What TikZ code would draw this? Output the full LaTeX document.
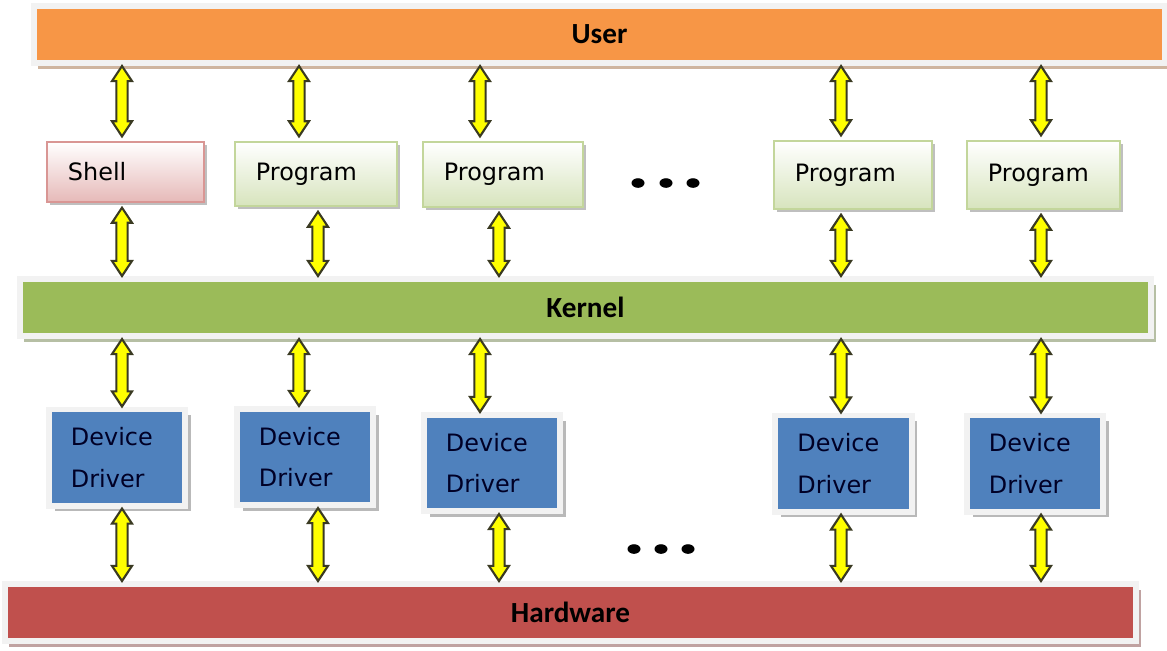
\documentclass[tikz,border=0pt]{standalone}
\usepackage{fontspec}
\setmainfont{DejaVu Sans}
\newfontfamily\barfont{Carlito}
\usetikzlibrary{calc,shadows}
\definecolor{userbar}{HTML}{F79646}
\definecolor{kernelbar}{HTML}{9BBB59}
\definecolor{hwbar}{HTML}{C0504D}
\definecolor{driver}{HTML}{4F81BD}
\definecolor{frame}{HTML}{F2F2F2}
\definecolor{shellfill}{HTML}{E6B9B8}
\definecolor{shellline}{HTML}{D99694}
\definecolor{progfill}{HTML}{D7E4BD}
\definecolor{progline}{HTML}{C3D69B}
\definecolor{arrowfill}{HTML}{FFFF00}
\definecolor{arrowline}{HTML}{3A3A22}
% double headed fat arrow
\def\headw{2.85pt}
\def\headl{4.3pt}
\def\shaftw{1.6pt}
\tikzset{
  bar/.style={draw=frame,line width=1.7pt,fill=#1,inner sep=0pt,
    minimum width=11.31cm,minimum height=0.57cm,
    font=\barfont\bfseries\fontsize{8.3}{10}\selectfont,
    drop shadow={shadow xshift=1.2pt,shadow yshift=-1.7pt,fill=#1!60!black,opacity=.45}},
  topbox/.style={line width=0.6pt,top color=white,align=left,
    inner xsep=0.21cm,inner ysep=0pt,outer sep=1.6pt,
    font=\fontsize{6.8}{8}\selectfont,
    drop shadow={shadow xshift=0.9pt,shadow yshift=-0.9pt,fill=black!50,opacity=.5}},
  shellbox/.style={topbox,draw=shellline,bottom color=shellfill},
  progbox/.style={topbox,draw=progline,bottom color=progfill},
  drvbox/.style={draw=frame,line width=1.7pt,fill=driver,align=left,
    text width=0.92cm,inner xsep=0.22cm,minimum height=0.96cm,
    font=\fontsize{6.8}{11.9}\selectfont,text=black!85!blue,
    drop shadow={shadow xshift=1.6pt,shadow yshift=-1.6pt,fill=black!55,opacity=.5}},
  fatarrow/.style={draw=arrowline,fill=arrowfill,line width=0.6pt,
    to path={let \p1=(\tikztostart),\p2=(\tikztotarget) in
      (\x1,\y1) -- (\x1+\headw,\y1-\headl) -- (\x1+\shaftw,\y1-\headl)
      -- (\x1+\shaftw,\y2+\headl) -- (\x1+\headw,\y2+\headl) -- (\x1,\y2)
      -- (\x1-\headw,\y2+\headl) -- (\x1-\shaftw,\y2+\headl)
      -- (\x1-\shaftw,\y1-\headl) -- (\x1-\headw,\y1-\headl) -- cycle}}
}
\begin{document}
\begin{tikzpicture}[x=0.01cm,y=-0.01cm]
 \useasboundingbox (0,0) rectangle (1167,650);
 % layers
 \node[bar=userbar] (user) at (599.5,34.5) {User};
 \node[bar=kernelbar] (kernel) at (585.5,307.5) {Kernel};
 \node[bar=hwbar] (hw) at (570.5,612.5) {Hardware};
 % user level
 \node[shellbox,text width=1.15cm,minimum height=0.60cm] (shell) at (125.5,172) {Shell};
 \node[progbox,text width=1.20cm,minimum height=0.64cm] (prog1) at (316,174) {Program};
 \node[progbox,text width=1.18cm,minimum height=0.65cm] (prog2) at (503,174.5) {Program};
 \node[progbox,text width=1.16cm,minimum height=0.68cm] (prog3) at (853,175) {Program};
 \node[progbox,text width=1.11cm,minimum height=0.68cm] (prog4) at (1043.5,175) {Program};
 % drivers
 \node[drvbox] (drv1) at (117,457.5) {Device\\Driver};
 \node[drvbox] (drv2) at (305,457) {Device\\Driver};
 \node[drvbox] (drv3) at (492,463) {Device\\Driver};
 \node[drvbox] (drv4) at (843.5,463.5) {Device\\Driver};
 \node[drvbox] (drv5) at (1035,463.5) {Device\\Driver};
 % ellipsis
 \foreach \x in {638,666,693}
   \fill (\x,183) ellipse [x radius=0.065cm,y radius=0.048cm];
 \foreach \x in {634,661,688}
   \fill (\x,549) ellipse [x radius=0.065cm,y radius=0.048cm];
 % arrow columns
 \foreach \i/\x in {1/122,2/299,3/480,4/841,5/1041}
   \coordinate (a\i) at (\x,0);
 \foreach \i/\x in {1/122,2/318,3/499,4/841,5/1041}
   \coordinate (b\i) at (\x,0);
 \foreach \b/\c in {shell/a1,prog1/a2,prog2/a3,prog3/a4,prog4/a5}
   \draw[fatarrow] (user.south -| \c) to (\b.north -| \c);
 \foreach \b/\c in {shell/b1,prog1/b2,prog2/b3,prog3/b4,prog4/b5}
   \draw[fatarrow] (\b.south -| \c) to (kernel.north -| \c);
 \foreach \b/\c in {drv1/a1,drv2/a2,drv3/a3,drv4/a4,drv5/a5}
   \draw[fatarrow] (kernel.south -| \c) to (\b.north -| \c);
 \foreach \b/\c in {drv1/b1,drv2/b2,drv3/b3,drv4/b4,drv5/b5}
   \draw[fatarrow] (\b.south -| \c) to (hw.north -| \c);
\end{tikzpicture}
\end{document}
